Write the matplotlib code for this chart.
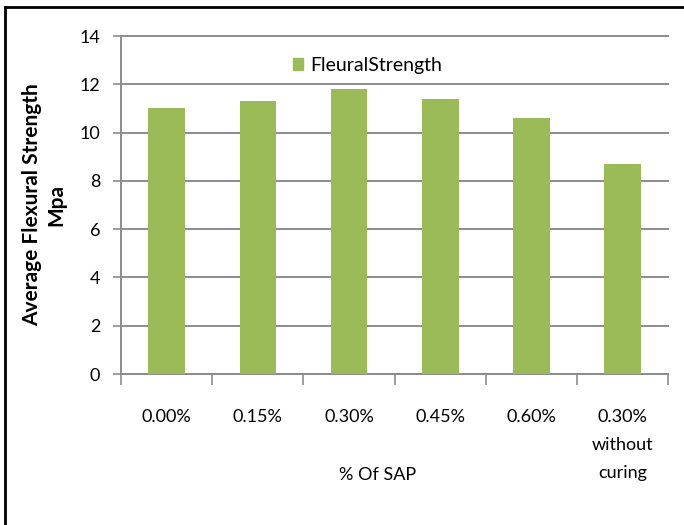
import matplotlib
matplotlib.use("Agg")
import matplotlib.pyplot as plt
from matplotlib.lines import Line2D
from matplotlib.patches import Patch

categories = ["0.00%", "0.15%", "0.30%", "0.45%", "0.60%", "0.30%\nwithout\ncuring"]
strength = [11.0, 11.3, 11.8, 11.4, 10.6, 8.7]
yticks = [0, 2, 4, 6, 8, 10, 12, 14]

plt.rcParams["font.family"] = ["Lato", "DejaVu Sans"]

fig = plt.figure(figsize=(6.84, 5.25), dpi=100)
ax = fig.add_axes([0.177, 0.2876, 0.8, 0.6438])

green = "#9BBB59"
grey = "#8c8c8c"
x = list(range(len(categories)))
ax.bar(x, strength, width=0.4, color=green, zorder=3)

ax.set_xlim(-0.5, len(categories) - 0.5)
ax.set_ylim(0, 14)
ax.set_yticks(yticks)
ax.set_yticklabels([str(v) for v in yticks], fontsize=13)
ax.yaxis.grid(True, color=grey, linewidth=1.4, zorder=0)
for gl in ax.get_ygridlines():
    gl.set_clip_on(False)
ax.tick_params(axis="y", length=6, width=1.2, color=grey, pad=9)

# category labels sit between boundary ticks
ax.set_xticks([i - 0.5 for i in range(len(categories) + 1)])
ax.set_xticklabels([])
ax.set_xticks(x, minor=True)
ax.set_xticklabels(categories, minor=True, fontsize=13, linespacing=1.95, va="top")
ax.tick_params(axis="x", which="major", length=8, width=1.2, color=grey)
ax.tick_params(axis="x", which="minor", length=0, pad=25)

for side in ["top", "right"]:
    ax.spines[side].set_visible(False)
for side in ["left", "bottom"]:
    ax.spines[side].set_color(grey)
    ax.spines[side].set_linewidth(1.4)

ax.set_xlabel("% Of SAP", fontsize=13)
ax.xaxis.set_label_coords(0.468, -0.275)
ax.set_ylabel("Average Flexural Strength\nMpa", fontsize=15, fontweight="bold",
              linespacing=1.25)
ax.yaxis.set_label_coords(-0.1, 0.5)

ax.legend(handles=[Patch(color=green, label="FleuralStrength")], loc="upper center",
          bbox_to_anchor=(0.45, 0.99), frameon=False, fontsize=14,
          handlelength=0.55, handleheight=0.55, handletextpad=0.35)

# outer frame of the chart area
fig.add_artist(Line2D([0.008, 0.008], [0, 0.987], color="black", linewidth=2))
fig.add_artist(Line2D([0.008, 1.0], [0.987, 0.987], color="black", linewidth=2))

fig.savefig("out.png", dpi=100)
